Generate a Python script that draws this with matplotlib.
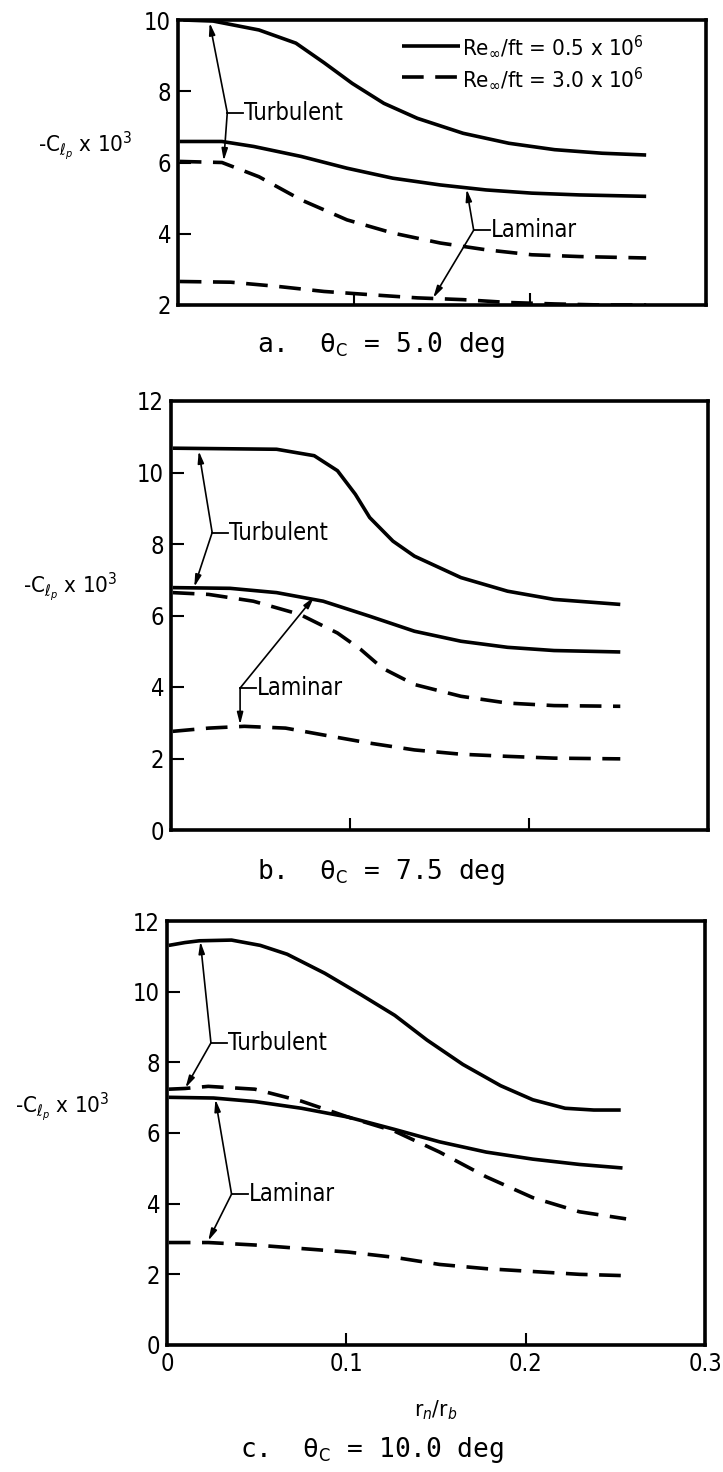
import numpy as np
import matplotlib
matplotlib.use("Agg")
import matplotlib.pyplot as plt
from matplotlib import transforms

plt.rcParams['font.family'] = ['DejaVu Sans']
plt.rcParams['font.stretch'] = 'condensed'
plt.rcParams['mathtext.fontset'] = 'dejavusans'

# ---- data: r_n/r_b vs -C_lp x 10^3 ----
# a. theta_c = 5.0 deg
a_sol_up_x = [0.003, 0.02, 0.046, 0.067, 0.083, 0.099, 0.117, 0.136, 0.162, 0.188, 0.214, 0.241, 0.266]
a_sol_up_y = [10.0, 9.97, 9.72, 9.35, 8.8, 8.22, 7.66, 7.24, 6.82, 6.54, 6.36, 6.26, 6.21]
a_sol_lo_x = [0.001, 0.025, 0.043, 0.07, 0.096, 0.122, 0.149, 0.175, 0.201, 0.228, 0.266]
a_sol_lo_y = [6.59, 6.59, 6.45, 6.17, 5.84, 5.56, 5.37, 5.23, 5.14, 5.09, 5.05]
a_dsh_up_x = [0.001, 0.025, 0.046, 0.07, 0.096, 0.122, 0.149, 0.175, 0.201, 0.228, 0.266]
a_dsh_up_y = [6.03, 6.0, 5.6, 4.95, 4.39, 4.02, 3.74, 3.55, 3.41, 3.36, 3.32]
a_dsh_lo_x = [0.001, 0.03, 0.057, 0.083, 0.109, 0.136, 0.162, 0.188, 0.214, 0.241, 0.266]
a_dsh_lo_y = [2.66, 2.64, 2.52, 2.38, 2.29, 2.2, 2.15, 2.07, 2.03, 2.0, 2.0]

# b. theta_c = 7.5 deg
b_sol_up_x = [0.001, 0.059, 0.08, 0.093, 0.103, 0.111, 0.124, 0.136, 0.162, 0.188, 0.214, 0.251]
b_sol_up_y = [10.68, 10.65, 10.47, 10.05, 9.39, 8.74, 8.08, 7.66, 7.06, 6.68, 6.45, 6.31]
b_sol_lo_x = [0.001, 0.033, 0.059, 0.085, 0.111, 0.136, 0.162, 0.188, 0.214, 0.251]
b_sol_lo_y = [6.78, 6.76, 6.64, 6.4, 5.98, 5.56, 5.28, 5.11, 5.02, 4.98]
b_dsh_up_x = [0.001, 0.021, 0.046, 0.072, 0.093, 0.106, 0.118, 0.136, 0.162, 0.188, 0.214, 0.251]
b_dsh_up_y = [6.64, 6.59, 6.4, 6.03, 5.51, 5.05, 4.53, 4.07, 3.74, 3.55, 3.48, 3.46]
b_dsh_lo_x = [0.001, 0.021, 0.041, 0.064, 0.085, 0.111, 0.136, 0.162, 0.188, 0.214, 0.251]
b_dsh_lo_y = [2.76, 2.85, 2.9, 2.85, 2.66, 2.43, 2.24, 2.12, 2.06, 2.01, 1.99]

# c. theta_c = 10.0 deg
c_sol_up_x = [0.001, 0.01, 0.018, 0.036, 0.052, 0.067, 0.088, 0.108, 0.127, 0.145, 0.165, 0.186, 0.204, 0.222, 0.238, 0.253]
c_sol_up_y = [11.31, 11.39, 11.44, 11.46, 11.31, 11.06, 10.52, 9.92, 9.33, 8.63, 7.94, 7.34, 6.94, 6.7, 6.65, 6.65]
c_sol_lo_x = [0.001, 0.026, 0.049, 0.075, 0.101, 0.127, 0.152, 0.178, 0.204, 0.23, 0.254]
c_sol_lo_y = [7.01, 6.99, 6.89, 6.7, 6.45, 6.1, 5.75, 5.46, 5.26, 5.11, 5.01]
c_dsh_up_x = [0.001, 0.01, 0.023, 0.049, 0.075, 0.101, 0.127, 0.152, 0.178, 0.204, 0.23, 0.256]
c_dsh_up_y = [7.24, 7.26, 7.32, 7.24, 6.9, 6.45, 6.05, 5.46, 4.76, 4.17, 3.77, 3.57]
c_dsh_lo_x = [0.001, 0.023, 0.049, 0.075, 0.101, 0.127, 0.152, 0.178, 0.204, 0.23, 0.257]
c_dsh_lo_y = [2.9, 2.9, 2.83, 2.73, 2.63, 2.48, 2.28, 2.16, 2.08, 2.0, 1.96]

x_ticks = [0, 0.1, 0.2, 0.3]
x_ticklabels = ['0', '0.1', '0.2', '0.3']
captions = [r'a.  θ$_{\rm C}$ = 5.0 deg', r'b.  θ$_{\rm C}$ = 7.5 deg', r'c.  θ$_{\rm C}$ = 10.0 deg']
leg_labels = [r'Re$_\infty$/ft = 0.5 x 10$^6$', r'Re$_\infty$/ft = 3.0 x 10$^6$']

W, H = 723, 1472
fig = plt.figure(figsize=(W / 100, H / 100), dpi=100)

def box(l, r, t, b):
    return [l / W, 1 - b / H, (r - l) / W, (b - t) / H]

axa = fig.add_axes(box(178, 706, 20, 305))
axb = fig.add_axes(box(171, 708, 401, 830))
axc = fig.add_axes(box(167, 705, 921, 1345))

LW = 2.6
DASH = (6, 3.2)

def curves(ax, d, label=False):
    (sux, suy), (slx, sly), (dux, duy), (dlx, dly) = d
    ax.plot(sux, suy, 'k-', lw=LW, solid_capstyle='butt', label=leg_labels[0] if label else None)
    ax.plot(slx, sly, 'k-', lw=LW, solid_capstyle='butt')
    ax.plot(dux, duy, 'k--', lw=LW, dashes=DASH, label=leg_labels[1] if label else None)
    ax.plot(dlx, dly, 'k--', lw=LW, dashes=DASH)

def bracket(ax, vx, vy, label, targets):
    ax.plot([vx, vx + 0.009], [vy, vy], 'k-', lw=1.3)
    ax.text(vx + 0.0095, vy, label, fontsize=17, va='center', ha='left')
    for tx, ty in targets:
        ax.annotate('', xy=(tx, ty), xytext=(vx, vy),
                    arrowprops=dict(arrowstyle='-|>,head_length=0.7,head_width=0.18',
                                    color='k', lw=1.2, shrinkA=0, shrinkB=0))

def style(ax, ylo, yhi, yticks, ylab_y, ylab_x):
    ax.set_xlim(0, 0.3)
    ax.set_ylim(ylo, yhi)
    ax.set_xticks(x_ticks)
    ax.set_yticks(yticks)
    ax.tick_params(direction='in', length=9, width=1.5, labelsize=17, pad=5)
    for s in ax.spines.values():
        s.set_linewidth(2.6)
    trans = transforms.blended_transform_factory(ax.transAxes, ax.transData)
    ax.text(ylab_x, ylab_y, r'-C$_{\ell_p}$ x 10$^3$', fontsize=16, ha='center', va='center',
            transform=trans)

curves(axa, [(a_sol_up_x, a_sol_up_y), (a_sol_lo_x, a_sol_lo_y),
             (a_dsh_up_x, a_dsh_up_y), (a_dsh_lo_x, a_dsh_lo_y)], label=True)
curves(axb, [(b_sol_up_x, b_sol_up_y), (b_sol_lo_x, b_sol_lo_y),
             (b_dsh_up_x, b_dsh_up_y), (b_dsh_lo_x, b_dsh_lo_y)])
curves(axc, [(c_sol_up_x, c_sol_up_y), (c_sol_lo_x, c_sol_lo_y),
             (c_dsh_up_x, c_dsh_up_y), (c_dsh_lo_x, c_dsh_lo_y)])

style(axa, 2, 10, [2, 4, 6, 8, 10], 6.45, -0.176)
style(axb, 0, 12, [0, 2, 4, 6, 8, 10, 12], 6.78, -0.188)
style(axc, 0, 12, [0, 2, 4, 6, 8, 10, 12], 6.73, -0.195)
axa.set_xticklabels([])
axb.set_xticklabels([])
axc.set_xticklabels(x_ticklabels)
axc.set_xlabel(r'r$_n$/r$_b$', fontsize=16, labelpad=16)

bracket(axa, 0.028, 7.4, 'Turbulent', [(0.018, 9.92), (0.026, 6.05)])
bracket(axa, 0.168, 4.1, 'Laminar', [(0.164, 5.25), (0.145, 2.2)])
bracket(axb, 0.023, 8.32, 'Turbulent', [(0.0155, 10.6), (0.013, 6.8)])
bracket(axb, 0.0386, 3.97, 'Laminar', [(0.08, 6.52), (0.0386, 2.95)])
bracket(axc, 0.0245, 8.55, 'Turbulent', [(0.0186, 11.42), (0.0103, 7.28)])
bracket(axc, 0.036, 4.27, 'Laminar', [(0.027, 6.95), (0.023, 2.95)])

axa.legend(loc='upper right', bbox_to_anchor=(0.9, 0.985), frameon=False, fontsize=16,
           handlelength=2.6, handletextpad=0.1, labelspacing=0.3, borderaxespad=0)

for cap, xp, yp in zip(captions, [257, 257, 240], [345, 872, 1450]):
    fig.text(xp / W, 1 - yp / H, cap, fontsize=18.8, family='DejaVu Sans Mono',
             ha='left', va='center')

fig.savefig('out.png', dpi=100)
